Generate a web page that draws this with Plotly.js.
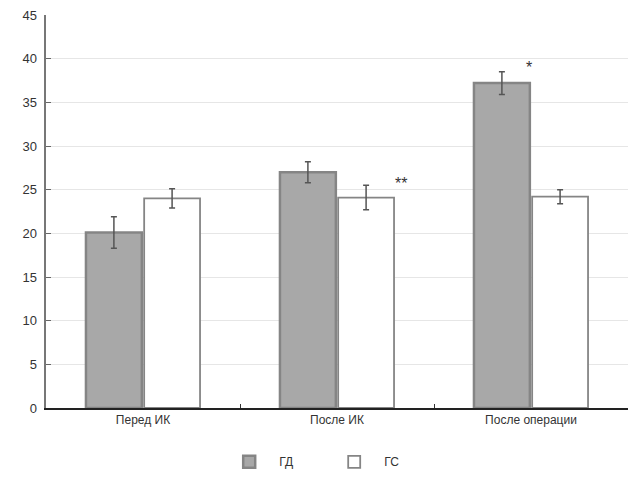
<!DOCTYPE html>
<html>
<head>
<meta charset="utf-8">
<script src="https://cdn.plot.ly/plotly-3.0.1.min.js"></script>
<style>html,body{margin:0;padding:0;background:#fff;}#chart{width:631px;height:502px;}</style>
</head>
<body>
<div id="chart"></div>
<script>
const categories = ['Перед ИК', 'После ИК', 'После операции'];
const seriesNames = ['ГД', 'ГС'];
const gdValues = [20.1, 27.0, 37.2];
const gdErrors = [1.8, 1.2, 1.3];
const gsValues = [24.0, 24.1, 24.2];
const gsErrors = [1.1, 1.4, 0.8];
const marks = [
  {category: 'После ИК', series: 'ГС', text: '**'},
  {category: 'После операции', series: 'ГД', text: '*'}
];

const traces = [
  {
    type: 'bar', name: seriesNames[0], x: categories, y: gdValues,
    marker: {color: '#a8a8a8', line: {color: '#858585', width: 2.5}},
    error_y: {type: 'data', array: gdErrors, visible: true, color: '#555', thickness: 1.5, width: 3}
  },
  {
    type: 'bar', name: seriesNames[1], x: categories, y: gsValues,
    marker: {color: '#ffffff', line: {color: '#858585', width: 1.8}},
    error_y: {type: 'data', array: gsErrors, visible: true, color: '#555', thickness: 1.5, width: 3}
  }
];

const annotations = marks.map(m => {
  const vals = m.series === 'ГД' ? gdValues : gsValues;
  const errs = m.series === 'ГД' ? gdErrors : gsErrors;
  const i = categories.indexOf(m.category);
  return {
    x: m.category, y: vals[i] + errs[i], xref: 'x', yref: 'y',
    text: m.text, showarrow: false,
    xshift: m.series === 'ГД' ? -2 : 64, yshift: m.series === 'ГД' ? 4 : 2,
    font: {family: 'Liberation Sans, Arial, sans-serif', size: 16, color: '#333'}
  };
});

const layout = {
  width: 631, height: 502,
  margin: {l: 46, r: 3, t: 15, b: 94},
  paper_bgcolor: '#fff', plot_bgcolor: '#fff',
  barmode: 'group', bargap: 0.4, bargroupgap: 0.04,
  font: {family: 'Liberation Sans, Arial, sans-serif', size: 12, color: '#333'},
  xaxis: {
    type: 'category', showline: true, linecolor: '#222', linewidth: 2,
    ticks: 'inside', tickson: 'boundaries', ticklen: 4, tickcolor: '#333',
    showgrid: false, tickfont: {size: 12, color: '#333'}
  },
  yaxis: {
    range: [0, 45], dtick: 5, showline: true, linecolor: '#777', linewidth: 2.5,
    ticks: 'inside', ticklen: 5, tickcolor: '#666',
    showgrid: true, gridcolor: '#e6e6e6', gridwidth: 1, zeroline: false,
    tickfont: {size: 13, color: '#333'}, ticklabelstandoff: 4
  },
  legend: {
    orientation: 'h', x: 0.478, xanchor: 'center', y: -0.10, yanchor: 'top',
    font: {size: 12, color: '#333'}, itemwidth: 50, entrywidth: 40
  },
  annotations: annotations
};

Plotly.newPlot('chart', traces, layout, {displayModeBar: false, staticPlot: true});
</script>
</body>
</html>
